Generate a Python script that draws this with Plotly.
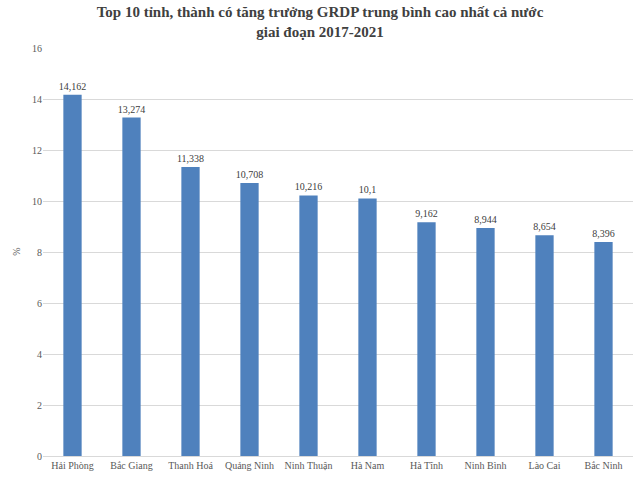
import plotly.graph_objects as go

provinces = ["Hải Phòng", "Bắc Giang", "Thanh Hoá", "Quảng Ninh", "Ninh Thuận",
             "Hà Nam", "Hà Tĩnh", "Ninh Bình", "Lào Cai", "Bắc Ninh"]
growth = [14.162, 13.274, 11.338, 10.708, 10.216, 10.1, 9.162, 8.944, 8.654, 8.396]
y_ticks = [0, 2, 4, 6, 8, 10, 12, 14, 16]

labels = [f"{v:g}".replace(".", ",") for v in growth]

font_family = "Liberation Serif, Times New Roman, serif"

fig = go.Figure(go.Bar(
    x=provinces, y=growth, text=labels, textposition="outside",
    constraintext="none",
    textfont=dict(family=font_family, size=10, color="#404040"),
    marker=dict(color="#4f81bd", line=dict(width=0)),
    cliponaxis=False,
))

fig.update_layout(
    width=640, height=477,
    margin=dict(l=43, r=7, t=48, b=21, autoexpand=False),
    paper_bgcolor="white", plot_bgcolor="white",
    bargap=0.69,
    showlegend=False,
    title=dict(
        text="Top 10 tỉnh, thành có tăng trưởng GRDP trung bình cao nhất cả nước<br>giai đoạn 2017-2021",
        x=0.5, xanchor="center", y=0.964, yanchor="top",
        font=dict(family=font_family, size=15, color="#404040", weight="bold"),
    ),
    font=dict(family=font_family, size=10, color="#595959"),
    annotations=[dict(
        text="%", textangle=-90, xref="paper", yref="paper",
        x=-0.046, y=0.5, xanchor="center", yanchor="middle", showarrow=False,
        font=dict(family=font_family, size=10, color="#595959"),
    )],
)
fig.update_xaxes(
    automargin=False,
    showline=True, linecolor="#d9d9d9", linewidth=1,
    tickfont=dict(family=font_family, size=10, color="#595959"),
    ticks="", showgrid=False,
)
fig.update_yaxes(
    automargin=False,
    range=[0, 16], tickvals=y_ticks, showgrid=True, gridcolor="#d9d9d9",
    gridwidth=1, zeroline=False, ticks="", ticklen=0,
    tickfont=dict(family=font_family, size=10, color="#595959"),
)

fig.write_html("out.html", config={"displayModeBar": False},
               post_script="document.body.style.margin='0';")
